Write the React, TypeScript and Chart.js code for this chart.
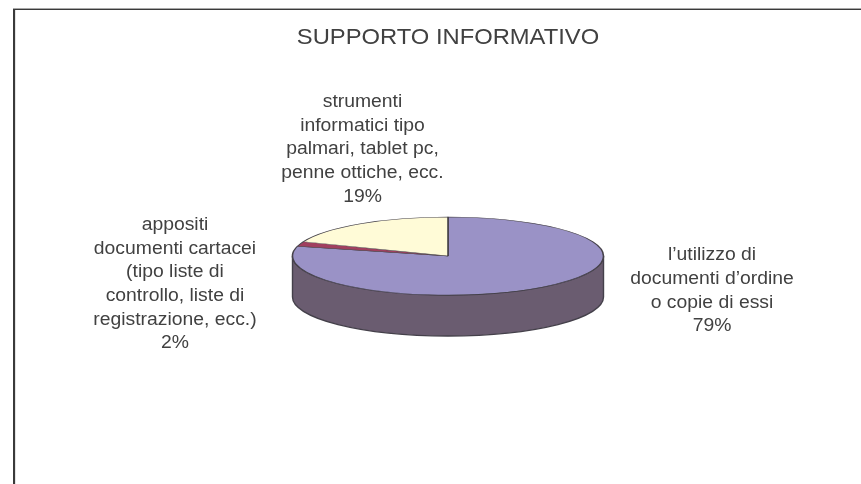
import React, { useEffect, useRef } from "react";
import { Chart, registerables } from "chart.js";

Chart.register(...registerables);

const titleText = "SUPPORTO INFORMATIVO";
const categories = [
  "l'utilizzo di documenti d'ordine o copie di essi",
  "appositi documenti cartacei (tipo liste di controllo, liste di registrazione, ecc.)",
  "strumenti informatici tipo palmari, tablet pc, penne ottiche, ecc.",
];
const shareValues = [79, 2, 19];
const sliceColors = ["#9a92c6", "#a0405f", "#fffbd7"];
const labelLines = [
  ["l\u2019utilizzo di", "documenti d\u2019ordine", "o copie di essi"],
  ["appositi", "documenti cartacei", "(tipo liste di", "controllo, liste di", "registrazione, ecc.)"],
  ["strumenti", "informatici tipo", "palmari, tablet pc,", "penne ottiche, ecc."],
];

const FONT = '"Liberation Sans", Arial, sans-serif';
const INK = "#414141";
const SQUASH = 39 / 155.5;
const PIE_Y = 256;
const DEPTH = 41;
const LINE_H = 23.7;
const LABEL_SIZE = 17.5;
const TEXT_STRETCH = 1.105;
const labelAnchors = [
  { x: 712, y: 255.5 },
  { x: 175, y: 225 },
  { x: 362.5, y: 102 },
];

const piePlugin = {
  id: "flatPie",
  beforeDraw(chart: any) {
    const { ctx } = chart;
    ctx.save();
    ctx.fillStyle = "#fff";
    ctx.fillRect(0, 0, chart.width, chart.height);
    ctx.fillStyle = "#a8a8a8";
    ctx.fillRect(13, 8, chart.width - 13, 1);
    ctx.fillStyle = "#3a3a3a";
    ctx.fillRect(13, 9, chart.width - 13, 1);
    ctx.fillRect(13, 9, 2, chart.height - 9);
    ctx.fillStyle = "#e4e4e4";
    ctx.fillRect(15, 10, 1, chart.height - 10);
    ctx.restore();
    // the chart's own title is laid out while this stretch is active
    ctx.save();
    const cx = chart.chartArea.left + chart.chartArea.width / 2;
    ctx.translate(cx, 0);
    ctx.scale(TEXT_STRETCH, 1);
    ctx.translate(-cx, 0);
  },
  beforeDatasetsDraw(chart: any) {
    const { ctx } = chart;
    ctx.restore();
    const arc = chart.getDatasetMeta(0).data[0];
    const { x, y, outerRadius } = arc.getProps(["x", "y", "outerRadius"], true);
    const ry = outerRadius * SQUASH;
    ctx.save();
    ctx.beginPath();
    ctx.ellipse(x, PIE_Y + DEPTH, outerRadius, ry, 0, 0, Math.PI);
    ctx.lineTo(x - outerRadius, PIE_Y);
    ctx.ellipse(x, PIE_Y, outerRadius, ry, 0, Math.PI, 0, true);
    ctx.closePath();
    ctx.fillStyle = "#6a5c70";
    ctx.strokeStyle = "#44404a";
    ctx.lineWidth = 1.4;
    ctx.fill();
    ctx.stroke();
    ctx.restore();
    ctx.save();
    ctx.translate(0, PIE_Y);
    ctx.scale(1, SQUASH);
    ctx.translate(0, -y);
  },
  afterDatasetsDraw(chart: any) {
    chart.ctx.restore();
  },
  afterDraw(chart: any) {
    const { ctx } = chart;
    ctx.save();
    ctx.font = `${LABEL_SIZE}px ${FONT}`;
    ctx.fillStyle = INK;
    ctx.textAlign = "center";
    ctx.textBaseline = "middle";
    labelLines.forEach((lines, i) => {
      const a = labelAnchors[i];
      ctx.save();
      ctx.translate(a.x, a.y);
      ctx.scale(TEXT_STRETCH, 1);
      [...lines, `${shareValues[i]}%`].forEach((t, j) => {
        ctx.fillText(t, 0, j * LINE_H);
      });
      ctx.restore();
    });
    ctx.restore();
  },
};

export default function App() {
  const ref = useRef<HTMLCanvasElement>(null);
  useEffect(() => {
    document.body.style.margin = "0";
    const chart = new Chart(ref.current!, {
      type: "pie",
      data: {
        labels: categories,
        datasets: [
          {
            data: shareValues,
            backgroundColor: sliceColors,
            borderColor: "#46424a",
            borderWidth: 1.6,
            clip: false,
          } as any,
        ],
      },
      options: {
        responsive: false,
        animation: false,
        radius: 155.5,
        layout: { padding: { left: 35, top: 25, bottom: 0 } },
        plugins: {
          legend: { display: false },
          tooltip: { enabled: false },
          title: {
            display: true,
            text: titleText,
            color: INK,
            font: { family: FONT, size: 21.5, weight: "normal" },
            padding: { top: 0, bottom: 10 },
          },
        },
      } as any,
      plugins: [piePlugin],
    });
    return () => chart.destroy();
  }, []);
  return <canvas ref={ref} width={861} height={484} style={{ display: "block" }} />;
}
